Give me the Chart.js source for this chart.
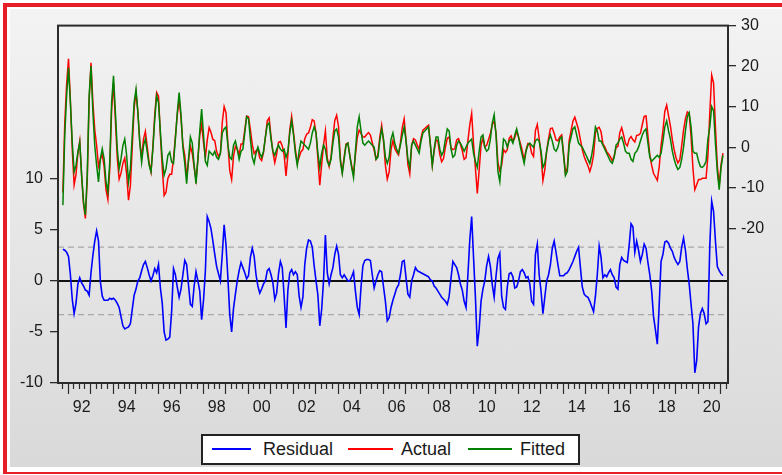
<!DOCTYPE html>
<html>
<head>
<meta charset="utf-8">
<script src="https://cdn.jsdelivr.net/npm/chart.js@4.4.1/dist/chart.umd.min.js"></script>
<style>
  body { margin: 0; width: 782px; height: 475px; overflow: hidden; background: #fff; position: relative; font-family: "Liberation Sans", Arial, sans-serif; }
  .red { position: absolute; background: #e61e25; }
  #panel { position: absolute; left: 10px; top: 9px; width: 772px; height: 458px; background: linear-gradient(#f3f3f3, #d9d9d9); }
  #chart { position: absolute; left: 10px; top: 9px; }
  #legend { position: absolute; left: 201px; top: 434px; width: 375px; height: 27px; border: 2px solid #222; background: #fff; }
  .swatch { position: absolute; top: 448px; height: 2px; }
  .lbl { position: absolute; top: 440px; font-size: 18px; line-height: 18px; color: #1a1a1a; }
</style>
</head>
<body>
<div class="red" style="left:3px;top:3px;width:779px;height:4px"></div>
<div class="red" style="left:3px;top:3px;width:4px;height:471px"></div>
<div class="red" style="left:3px;top:472px;width:779px;height:2px"></div>
<div id="panel"></div>
<canvas id="chart" width="772" height="458"></canvas>
<div id="legend"></div>
<div class="swatch" style="left:212px;width:39px;background:#0000ff"></div>
<div class="lbl" style="left:263px">Residual</div>
<div class="swatch" style="left:348px;width:45px;background:#ff0000"></div>
<div class="lbl" style="left:401px">Actual</div>
<div class="swatch" style="left:468px;width:44px;background:#008000"></div>
<div class="lbl" style="left:520px">Fitted</div>
<script>
// monthly observations, first one is 1991M10
const firstYear = 1991;
const firstMonth = 10;

const residual = [
  3.1, 3.0, 2.8, 2.4, 0.6, -1.8, -3.2, -2.2, -0.3, 0.3,
  -0.2, -0.5, -0.9, -1.0, -1.4, 0.8, 2.5, 3.9, 4.9, 3.9,
  -0.1, -1.5, -1.9, -1.9, -1.9, -1.7, -1.8, -1.7, -1.9, -2.2,
  -2.6, -3.5, -4.4, -4.7, -4.6, -4.5, -4.2, -2.8, -1.4, -0.8,
  0.0, 0.3, 1.0, 1.6, 1.9, 1.3, 0.6, 0.0, 0.5, 1.2,
  0.8, 1.6, -0.7, -2.2, -5.0, -5.8, -5.7, -5.5, -3.0, 1.2,
  0.6, -0.6, -1.6, -0.8, 0.6, 2.0, 1.6, -0.4, -2.3, -2.5,
  -0.5, 0.9, 0.0, -1.0, -3.8, -1.9, 1.0, 6.3, 5.8, 5.1,
  3.9, 2.6, 1.4, 0.7, 0.0, 2.6, 5.5, 3.5, 0.3, -3.3,
  -5.0, -2.7, -1.3, 0.0, 1.0, 1.8, 1.3, 0.8, 0.2, 0.5,
  2.3, 3.2, 2.4, 0.6, -0.5, -1.2, -0.8, -0.3, 0.0, 1.0,
  1.2, 0.6, -0.2, -1.8, -1.2, 0.7, 1.9, 1.3, -1.5, -4.6,
  -0.9, 0.8, 1.1, 0.6, 0.9, 0.6, -1.5, -2.6, -1.6, 1.6,
  3.2, 4.0, 3.9, 3.3, 1.5, 0.0, -1.4, -4.4, -2.8, 0.0,
  4.5, 0.8, -0.3, 0.6, 1.3, 2.6, 3.4, 2.6, 0.6, 0.3,
  0.6, 0.3, 0.0, 0.0, 0.4, 0.9, -1.0, -2.6, -3.3, -0.6,
  1.5, 2.0, 2.1, 2.1, 2.0, 0.6, -0.7, 0.0, 0.6, 1.0,
  0.9, -0.6, -2.0, -3.9, -3.6, -2.6, -1.9, -1.3, -0.7, -0.4,
  0.6, 1.9, 2.0, 0.3, -1.3, -1.6, 0.0, 0.6, 1.3, 1.0,
  0.9, 0.8, 0.7, 0.6, 0.5, 0.4, 0.1, 0.0, -0.5, -0.7,
  -1.0, -1.3, -1.6, -1.8, -2.0, -2.3, -1.5, 0.3, 1.9, 1.6,
  1.3, 0.6, -0.3, -0.9, -2.0, -2.6, 0.6, 4.0, 6.3, 2.3,
  -1.6, -6.4, -4.7, -2.0, -0.8, 0.0, 1.5, 2.4, 1.4, -0.4,
  -1.6, 0.5, 2.2, 2.7, -1.5, -2.6, -2.8, -0.6, 0.7, 0.8,
  0.4, -0.7, -0.6, 0.0, 0.9, 1.1, 0.8, 0.3, 0.4, -0.3,
  -2.0, -2.3, 2.6, 3.6, 0.6, -1.0, -3.2, -1.6, 0.0, 0.6,
  1.6, 3.2, 3.9, 2.8, 1.6, 0.5, 0.5, 0.5, 0.7, 0.8,
  1.1, 1.5, 1.9, 2.4, 2.9, 3.3, 1.3, -0.6, -1.3, -1.5,
  -1.6, -2.0, -2.5, -3.0, -1.5, 0.6, 3.4, 2.3, 0.3, 0.6,
  0.4, 0.8, 1.1, 0.6, 0.3, -0.6, -0.8, 1.6, 2.3, 2.0,
  1.9, 1.8, 3.5, 5.6, 5.3, 2.8, 3.9, 3.0, 1.9, 2.6,
  3.6, 3.2, 1.8, 0.6, -1.0, -3.5, -4.8, -6.2, -2.4, 1.9,
  2.6, 3.8, 3.9, 3.7, 3.2, 2.9, 2.3, 1.9, 1.6, 1.9,
  3.3, 4.2, 3.0, 1.2, -0.3, -2.3, -4.2, -9.0, -7.8, -4.5,
  -3.2, -2.7, -3.2, -4.2, -4.0, 3.5, 7.8, 6.8, 3.9, 1.4,
  1.0, 0.7, 0.5
];

const actual = [
  -11.2, 5.9, 15.5, 21.8, 11.6, -0.6, -9.3, -6.7, -1.5, 1.5,
  -7.1, -14.0, -17.6, -7.9, 11.3, 20.8, 11.1, 4.3, 0.4, -4.7,
  -3.0, -1.9, -4.8, -10.5, -12.9, -5.4, 9.2, 15.9, 6.7, -2.6,
  -7.9, -6.4, -4.0, -2.7, -6.6, -13.1, -9.5, 0.1, 9.6, 13.5,
  8.6, 1.5, -2.7, 2.0, 3.9, 0.1, -3.9, -6.1, 0.1, 8.1,
  13.5, 12.6, 3.0, -5.1, -11.9, -11.1, -7.7, -6.7, -6.7, -2.8,
  2.6, 7.9, 11.9, 7.2, 0.6, -2.0, -7.4, -3.4, 0.2, -1.5,
  -5.0, -8.1, -3.0, 3.0, 5.6, 1.1, -2.5, 1.8, 4.8, 3.6,
  1.9, 1.6, -1.1, -2.3, -1.5, 6.1, 10.0, 8.5, 0.8, -5.8,
  -8.0, -2.2, 0.2, -0.5, -2.0, 0.8, 0.8, 4.3, 7.7, 7.5,
  4.3, 0.7, -1.6, -0.9, -0.5, -2.7, -3.3, -1.3, 2.5, 6.5,
  7.2, 2.6, -1.2, -3.8, -1.7, 1.2, 1.4, 0.3, -2.0, -7.1,
  -1.9, 4.3, 7.6, 3.6, -0.6, -3.9, -2.5, -1.1, -0.6, 2.1,
  3.2, 3.5, 4.9, 6.8, 6.5, 3.5, -2.9, -9.4, -4.3, 0.5,
  4.0, -2.7, -4.8, -2.4, 2.3, 6.6, 7.9, 5.1, -2.9, -6.2,
  -2.4, 0.8, 1.0, -2.0, -4.6, -6.6, -2.0, 2.4, 4.2, 3.4,
  2.5, 2.5, 3.1, 3.6, 3.0, 1.1, -0.7, -3.0, -1.9, 2.5,
  5.4, 1.4, -4.5, -7.9, -6.1, -0.6, 1.6, -0.3, -1.2, -1.9,
  1.1, 4.9, 7.0, 1.8, -4.3, -6.6, 0.5, 2.1, 1.8, 0.5,
  -0.6, 2.3, 4.2, 4.6, 5.0, 5.4, 0.6, -4.5, -1.0, 1.8,
  1.5, -1.8, -3.6, -2.8, 0.0, 2.2, 2.5, -0.2, -0.6, -0.4,
  1.8, 2.1, 0.7, -0.9, -3.0, -2.6, 1.6, 5.5, 8.3, 0.8,
  -5.1, -11.4, -5.7, 0.5, 2.2, 0.0, 0.5, 1.9, 3.4, 5.6,
  6.4, 3.5, -3.8, -5.8, -4.5, -0.6, -1.3, -0.6, 2.2, 2.8,
  1.4, 2.3, 3.9, 2.5, 0.9, -0.9, -3.2, -0.7, 0.9, 0.7,
  -1.5, -2.3, 4.1, 5.6, 2.1, -2.0, -8.2, -5.6, -1.0, 2.1,
  4.6, 4.7, 3.4, 1.8, 1.6, 2.5, 3.0, -1.5, -6.3, -5.2,
  1.6, 4.0, 6.4, 7.4, 5.9, 4.3, 1.8, -0.6, -2.3, -3.5,
  -4.6, -6.0, -4.5, -2.0, 3.5, 4.6, 4.9, 3.8, 0.8, 0.1,
  -1.1, -1.7, -2.4, -3.4, -2.2, -0.1, 0.2, 3.6, 4.8, 3.0,
  0.9, 0.3, 2.0, 2.6, 1.8, 1.3, 2.9, 3.0, 3.4, 5.6,
  7.6, 7.7, 2.8, -1.9, -4.5, -6.5, -7.3, -8.2, -4.9, 0.4,
  4.1, 8.8, 10.4, 7.7, 5.2, 1.9, -0.7, -2.6, -3.9, -3.1,
  0.3, 4.2, 7.0, 8.7, 8.2, 2.7, -5.2, -10.5, -9.3, -8.0,
  -8.0, -7.7, -7.7, -7.7, -2.0, 8.5, 17.8, 15.8, 4.9, -4.6,
  -9.5, -4.3, -1.5
];

const fitted = [
  -14.3, 2.9, 12.7, 19.6, 11.0, 1.2, -6.1, -4.5, -1.2, 1.2,
  -6.9, -13.5, -16.7, -6.9, 12.7, 20.0, 8.6, 0.4, -4.5, -8.6,
  -2.9, -0.4, -2.9, -8.6, -11.0, -3.7, 11.0, 17.6, 8.6, -0.4,
  -5.3, -2.9, 0.4, 2.0, -2.0, -8.6, -5.3, 2.9, 11.0, 14.3,
  8.6, 1.2, -3.7, 0.4, 2.0, -1.2, -4.5, -6.1, -0.4, 6.9,
  12.7, 11.0, 3.7, -2.9, -6.9, -5.3, -2.0, -1.2, -3.7, -4.0,
  2.0, 8.5, 13.5, 8.0, 0.0, -4.0, -9.0, -3.0, 2.5, 1.0,
  -4.5, -9.0, -3.0, 4.0, 9.4, 3.0, -3.5, -4.5, -1.0, -1.5,
  -2.0, -1.0, -2.5, -3.0, -1.5, 3.5, 4.5, 5.0, 0.5, -2.5,
  -3.0, 0.5, 1.5, -0.5, -3.0, -1.0, -0.5, 3.5, 7.5, 7.0,
  2.0, -2.5, -4.0, -1.5, 0.0, -1.5, -2.5, -1.0, 2.5, 5.5,
  6.0, 2.0, -1.0, -2.0, -0.5, 0.5, -0.5, -1.0, -0.5, -2.5,
  -1.0, 3.5, 6.5, 3.0, -1.5, -4.5, -1.0, 1.5, 1.0, 0.5,
  0.0, -0.5, 1.0, 3.5, 5.0, 3.5, -1.5, -5.0, -1.5, 0.5,
  -0.5, -3.5, -4.5, -3.0, 1.0, 4.0, 4.5, 2.5, -3.5, -6.5,
  -3.0, 0.5, 1.0, -2.0, -5.0, -7.5, -1.0, 5.0, 7.5, 4.0,
  1.0, 0.5, 1.0, 1.5, 1.0, 0.5, 0.0, -3.0, -2.5, 1.5,
  4.5, 2.0, -2.5, -4.0, -2.5, 2.0, 3.5, 1.0, -0.5, -1.5,
  0.5, 3.0, 5.0, 1.5, -3.0, -5.0, 0.5, 1.5, 0.5, -0.5,
  -1.5, 1.5, 3.5, 4.0, 4.5, 5.0, 0.5, -4.5, -0.5, 2.5,
  2.5, -0.5, -2.0, -1.0, 2.0, 4.5, 4.0, -0.5, -2.5, -2.0,
  0.5, 1.5, 1.0, 0.0, -1.0, 0.0, 1.0, 1.5, 2.0, -1.5,
  -3.5, -5.0, -1.0, 2.5, 3.0, 0.0, -1.0, -0.5, 2.0, 6.0,
  8.0, 3.0, -6.0, -8.5, -3.0, 2.0, 1.5, 0.0, 1.5, 2.0,
  1.0, 3.0, 4.5, 2.5, 0.0, -2.0, -4.0, -1.0, 0.5, 1.0,
  0.5, 0.0, 1.5, 2.0, 1.5, -1.0, -5.0, -4.0, -1.0, 1.5,
  3.0, 1.5, -0.5, -1.0, 0.0, 2.0, 2.5, -2.0, -7.0, -6.0,
  0.5, 2.5, 4.5, 5.0, 3.0, 1.0, 0.5, 0.0, -1.0, -2.0,
  -3.0, -4.0, -2.0, 1.0, 5.0, 4.0, 1.5, 1.5, 0.5, -0.5,
  -1.5, -2.5, -3.5, -4.0, -2.5, 0.5, 1.0, 2.0, 2.5, 1.0,
  -1.0, -1.5, -1.5, -3.0, -3.5, -1.5, -1.0, 0.0, 1.5, 3.0,
  4.0, 4.5, 1.0, -2.5, -3.5, -3.0, -2.5, -2.0, -2.5, -1.5,
  1.5, 5.0, 6.5, 4.0, 2.0, -1.0, -3.0, -4.5, -5.5, -5.0,
  -3.0, 0.0, 4.0, 7.5, 8.5, 5.0, -1.0, -1.5, -1.5, -3.5,
  -4.8, -5.0, -4.5, -3.5, 2.0, 5.0, 10.0, 9.0, 1.0, -6.0,
  -10.5, -5.0, -2.0
];

const yearLabels = ["92", "94", "96", "98", "00", "02", "04", "06", "08", "10", "12", "14", "16", "18", "20"];
const residTicks = [-10, -5, 0, 5, 10];
const levelTicks = [-20, -10, 0, 10, 20, 30];
const bandLines = [3.3, -3.3];

const fontFamily = "'Liberation Sans', Arial, sans-serif";
const textColor = "#1a1a1a";

function janIndex(year) {
  return (year - firstYear) * 12 + 1 - firstMonth;
}

const labelPos = yearLabels.map((l) => {
  const yr = +l + (+l > 50 ? 1900 : 2000);
  return janIndex(yr) + 7;
});

function points(arr) {
  return arr.map((v, i) => ({ x: i, y: v }));
}

const framePlugin = {
  id: "frame",
  beforeDatasetsDraw(chart) {
    const ctx = chart.ctx;
    const a = chart.chartArea;
    const y = chart.scales.yL;
    ctx.save();
    ctx.strokeStyle = "#a8a8a8";
    ctx.lineWidth = 1.3;
    ctx.setLineDash([6, 4]);
    bandLines.forEach((v) => {
      const py = y.getPixelForValue(v);
      ctx.beginPath();
      ctx.moveTo(a.left, py);
      ctx.lineTo(a.right, py);
      ctx.stroke();
    });
    ctx.setLineDash([]);
    ctx.strokeStyle = "#111";
    ctx.lineWidth = 2;
    const p0 = y.getPixelForValue(0);
    ctx.beginPath();
    ctx.moveTo(a.left, p0);
    ctx.lineTo(a.right, p0);
    ctx.stroke();
    ctx.restore();
  },
  afterDatasetsDraw(chart) {
    const ctx = chart.ctx;
    const a = chart.chartArea;
    const x = chart.scales.x;
    ctx.save();
    ctx.strokeStyle = "#2b2b2b";
    ctx.lineWidth = 2;
    ctx.strokeRect(a.left, a.top, a.right - a.left, a.bottom - a.top);
    // quarterly ticks, longer at each January
    ctx.lineWidth = 1.2;
    const start = janIndex(firstYear) - 0.5;
    for (let v = start, k = 0; v <= x.max; v += 3, k++) {
      if (v < x.min) continue;
      const px = Math.round(x.getPixelForValue(v)) + 0.5;
      const len = k % 4 === 0 ? 11 : 6;
      ctx.beginPath();
      ctx.moveTo(px, a.bottom);
      ctx.lineTo(px, a.bottom + len);
      ctx.stroke();
    }
    ctx.restore();
  },
};

new Chart(document.getElementById("chart"), {
  type: "line",
  data: {
    datasets: [
      { label: "Fitted", data: points(fitted), yAxisID: "yR", borderColor: "#008000", borderWidth: 1.5, pointRadius: 0, tension: 0 },
      { label: "Actual", data: points(actual), yAxisID: "yR", borderColor: "#ff0000", borderWidth: 1.5, pointRadius: 0, tension: 0 },
      { label: "Residual", data: points(residual), yAxisID: "yL", borderColor: "#0000ff", borderWidth: 1.6, pointRadius: 0, tension: 0 },
    ],
  },
  options: {
    responsive: false,
    devicePixelRatio: 1,
    animation: false,
    layout: { padding: { top: 14, left: 0, right: 0, bottom: 0 } },
    plugins: { legend: { display: false }, tooltip: { enabled: false } },
    scales: {
      x: {
        type: "linear",
        bounds: "data",
        min: -2.6,
        max: residual.length - 1 + 2.7,
        grid: { display: false, drawTicks: false },
        border: { display: false },
        afterBuildTicks: (s) => { s.ticks = labelPos.map((v) => ({ value: v })); },
        afterFit: (s) => { s.height = 84; },
        ticks: {
          autoSkip: false, maxRotation: 0, padding: 15, color: textColor,
          font: { family: fontFamily, size: 16 },
          callback: (v, i) => yearLabels[i],
        },
      },
      yL: {
        type: "linear",
        position: "left",
        bounds: "data",
        min: -10,
        max: 25,
        grid: { drawOnChartArea: false, tickLength: 8, color: "#2b2b2b", lineWidth: 1.3 },
        border: { display: false },
        afterBuildTicks: (s) => { s.ticks = residTicks.map((v) => ({ value: v })); },
        afterFit: (s) => { s.width = 48; },
        ticks: { padding: 7, color: textColor, font: { family: fontFamily, size: 16 }, callback: (v) => String(v) },
      },
      yR: {
        type: "linear",
        position: "right",
        bounds: "data",
        min: -58.2,
        max: 30,
        grid: { drawOnChartArea: false, tickLength: 8, color: "#2b2b2b", lineWidth: 1.3 },
        border: { display: false },
        afterBuildTicks: (s) => { s.ticks = levelTicks.map((v) => ({ value: v })); },
        afterFit: (s) => { s.width = 54; },
        ticks: { padding: 5, color: textColor, font: { family: fontFamily, size: 16 }, callback: (v) => String(v) },
      },
    },
  },
  plugins: [framePlugin],
});
</script>
</body>
</html>
